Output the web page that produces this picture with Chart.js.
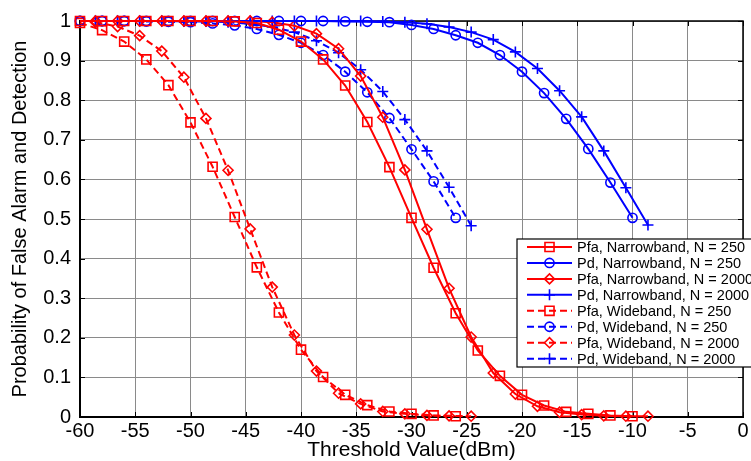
<!DOCTYPE html>
<html>
<head>
<meta charset="utf-8">
<script src="https://cdn.jsdelivr.net/npm/chart.js@4/dist/chart.umd.min.js"></script>
<style>
  html, body { margin: 0; padding: 0; background: #fff; }
</style>
</head>
<body>
<canvas id="myChart" width="751" height="461"></canvas>
<script>
// thresholds (dBm) for each sweep
const thrNarrow250 = [-60, -58, -56, -54, -52, -50, -48, -46, -44, -42, -40, -38, -36, -34, -32, -30, -28, -26, -24, -22, -20, -18, -16, -14, -12, -10];
const thrNarrow2000 = [-58.6, -56.6, -54.6, -52.6, -50.6, -48.6, -46.6, -44.6, -42.6, -40.6, -38.6, -36.6, -34.6, -32.6, -30.6, -28.6, -26.6, -24.6, -22.6, -20.6, -18.6, -16.6, -14.6, -12.6, -10.6, -8.6];
const thrWide250 = [-60, -58, -56, -54, -52, -50, -48, -46, -44, -42, -40, -38, -36, -34, -32, -30, -28, -26];
const thrWide2000 = [-58.6, -56.6, -54.6, -52.6, -50.6, -48.6, -46.6, -44.6, -42.6, -40.6, -38.6, -36.6, -34.6, -32.6, -30.6, -28.6, -26.6, -24.6];

// probabilities
const pfaNarrow250 = [1, 1, 1, 1, 1, 1, 1, 0.999, 0.995, 0.978, 0.948, 0.903, 0.837, 0.745, 0.631, 0.503, 0.377, 0.262, 0.168, 0.104, 0.056, 0.029, 0.013, 0.008, 0.004, 0.002];
const pdNarrow250 = [1, 1, 1, 1, 1, 1, 1, 1, 1, 1, 1, 1, 0.999, 0.998, 0.997, 0.99, 0.98, 0.964, 0.945, 0.914, 0.872, 0.818, 0.753, 0.677, 0.592, 0.503];
const pfaNarrow2000 = [1, 1, 1, 1, 1, 1, 1, 1, 0.997, 0.988, 0.968, 0.93, 0.861, 0.757, 0.624, 0.474, 0.325, 0.202, 0.111, 0.058, 0.027, 0.012, 0.006, 0.003, 0.002, 0.002];
const pdNarrow2000 = [1, 1, 1, 1, 1, 1, 1, 1, 1, 1, 1, 1, 1, 0.999, 0.997, 0.993, 0.985, 0.972, 0.953, 0.922, 0.88, 0.824, 0.758, 0.672, 0.579, 0.485];
const pfaWide250 = [0.995, 0.977, 0.948, 0.903, 0.838, 0.744, 0.632, 0.505, 0.378, 0.264, 0.17, 0.101, 0.056, 0.03, 0.014, 0.008, 0.004, 0.002];
const pdWide250 = [1, 1, 1, 0.999, 0.998, 0.997, 0.994, 0.989, 0.98, 0.965, 0.945, 0.914, 0.872, 0.82, 0.755, 0.676, 0.595, 0.503];
const pfaWide2000 = [0.997, 0.986, 0.963, 0.924, 0.858, 0.754, 0.623, 0.475, 0.328, 0.207, 0.116, 0.06, 0.033, 0.014, 0.008, 0.004, 0.003, 0.002];
const pdWide2000 = [1, 1, 1, 1, 0.999, 0.999, 0.997, 0.993, 0.985, 0.972, 0.95, 0.92, 0.877, 0.822, 0.751, 0.672, 0.58, 0.483];

const seriesLabels = [
    'Pfa, Narrowband, N = 250',
    'Pd, Narrowband, N = 250',
    'Pfa, Narrowband, N = 2000',
    'Pd, Narrowband, N = 2000',
    'Pfa, Wideband, N = 250',
    'Pd, Wideband, N = 250',
    'Pfa, Wideband, N = 2000',
    'Pd, Wideband, N = 2000'
];
const xTickLabels = ['-60', '-55', '-50', '-45', '-40', '-35', '-30', '-25', '-20', '-15', '-10', '-5', '0'];
const yTickLabels = ['0', '0.1', '0.2', '0.3', '0.4', '0.5', '0.6', '0.7', '0.8', '0.9', '1'];

const RED = '#ff0000';
const BLUE = '#0000ff';
const FONT = '"Liberation Sans", Arial, sans-serif';

function pts(xs, ys) {
    return xs.map((x, i) => ({x: x, y: ys[i]}));
}

function series(label, xs, ys, color, dashed, marker, r) {
    return {
        label: label,
        data: pts(xs, ys),
        borderColor: color,
        backgroundColor: color,
        borderWidth: 2,
        borderDash: dashed ? [7, 4] : [],
        pointStyle: marker,
        pointRadius: r,
        pointHoverRadius: r,
        pointBorderWidth: 1.6,
        pointBorderColor: color,
        pointBackgroundColor: 'rgba(0,0,0,0)',
        tension: 0,
        fill: false,
        clip: false
    };
}

// draw a marker the same way for the legend
function marker(ctx, style, x, y, r) {
    ctx.beginPath();
    if (style === 'rect') {
        const s = r * Math.SQRT1_2;
        ctx.rect(x - s, y - s, 2 * s, 2 * s);
    } else if (style === 'circle') {
        ctx.arc(x, y, r, 0, Math.PI * 2);
    } else if (style === 'rectRot') {
        ctx.moveTo(x - r, y);
        ctx.lineTo(x, y - r);
        ctx.lineTo(x + r, y);
        ctx.lineTo(x, y + r);
        ctx.closePath();
    } else if (style === 'cross') {
        ctx.moveTo(x - r, y);
        ctx.lineTo(x + r, y);
        ctx.moveTo(x, y - r);
        ctx.lineTo(x, y + r);
    }
    ctx.stroke();
}

const boxPlugin = {
    id: 'boxPlugin',
    beforeDatasetsDraw(chart) {
        const ctx = chart.ctx;
        const a = chart.chartArea;
        const xs = chart.scales.x, ys = chart.scales.y;
        ctx.save();
        ctx.strokeStyle = '#000';
        ctx.lineWidth = 1.5;
        ctx.strokeRect(a.left, a.top, a.right - a.left, a.bottom - a.top);
        ctx.lineWidth = 1;
        ctx.beginPath();
        xs.ticks.forEach(t => {
            const px = Math.round(xs.getPixelForValue(t.value)) + 0.5;
            ctx.moveTo(px, a.bottom); ctx.lineTo(px, a.bottom - 5);
            ctx.moveTo(px, a.top); ctx.lineTo(px, a.top + 5);
        });
        ys.ticks.forEach(t => {
            const py = Math.round(ys.getPixelForValue(t.value)) + 0.5;
            ctx.moveTo(a.left, py); ctx.lineTo(a.left + 5, py);
            ctx.moveTo(a.right, py); ctx.lineTo(a.right - 5, py);
        });
        ctx.stroke();
        ctx.restore();
    }
};

const legendPlugin = {
    id: 'legendPlugin',
    afterDraw(chart) {
        const ctx = chart.ctx;
        const x0 = 517, y0 = 239, w = 240, h = 128, rowH = 15.95;
        ctx.save();
        ctx.fillStyle = '#fff';
        ctx.fillRect(x0, y0, w, h);
        ctx.strokeStyle = '#000';
        ctx.lineWidth = 1.2;
        ctx.strokeRect(x0, y0, w, h);
        ctx.font = '14.5px ' + FONT;
        ctx.textBaseline = 'middle';
        chart.data.datasets.forEach((ds, i) => {
            const y = y0 + 8 + i * rowH;
            ctx.strokeStyle = ds.borderColor;
            ctx.lineWidth = 2;
            ctx.setLineDash(ds.borderDash);
            ctx.beginPath();
            ctx.moveTo(527, y);
            ctx.lineTo(572, y);
            ctx.stroke();
            ctx.setLineDash([]);
            ctx.lineWidth = 1.6;
            marker(ctx, ds.pointStyle, 549.5, y, ds.pointRadius);
            ctx.fillStyle = '#000';
            ctx.fillText(ds.label, 577, y + 1);
        });
        ctx.restore();
    }
};

Chart.defaults.font.family = FONT;
Chart.defaults.color = '#000';

const ctx = document.getElementById('myChart');
new Chart(ctx, {
    type: 'line',
    data: {
        datasets: [
            series(seriesLabels[0], thrNarrow250, pfaNarrow250, RED, false, 'rect', 6.4),
            series(seriesLabels[1], thrNarrow250, pdNarrow250, BLUE, false, 'circle', 4.6),
            series(seriesLabels[2], thrNarrow2000, pfaNarrow2000, RED, false, 'rectRot', 5),
            series(seriesLabels[3], thrNarrow2000, pdNarrow2000, BLUE, false, 'cross', 5.5),
            series(seriesLabels[4], thrWide250, pfaWide250, RED, true, 'rect', 6.4),
            series(seriesLabels[5], thrWide250, pdWide250, BLUE, true, 'circle', 4.6),
            series(seriesLabels[6], thrWide2000, pfaWide2000, RED, true, 'rectRot', 5),
            series(seriesLabels[7], thrWide2000, pdWide2000, BLUE, true, 'cross', 5.5)
        ]
    },
    options: {
        responsive: false,
        animation: false,
        devicePixelRatio: 1,
        layout: {
            padding: {top: 17, right: 8, left: 0, bottom: 0}
        },
        plugins: {
            legend: {display: false},
            tooltip: {enabled: false}
        },
        scales: {
            x: {
                type: 'linear',
                min: -60,
                max: 0,
                afterFit: function(scale) { scale.height = 44; },
                ticks: {
                    stepSize: 5,
                    padding: 2,
                    font: {size: 20},
                    callback: function(value, index) {
                        return xTickLabels[index];
                    }
                },
                grid: {color: '#8a8a8a', lineWidth: 1, drawTicks: false},
                border: {color: '#000', width: 2},
                title: {
                    display: true,
                    text: 'Threshold Value(dBm)',
                    font: {size: 21},
                    padding: {top: 0, bottom: -2}
                }
            },
            y: {
                min: 0,
                max: 1,
                afterFit: function(scale) { scale.width = 80; },
                ticks: {
                    stepSize: 0.1,
                    padding: 9,
                    font: {size: 20},
                    callback: function(value, index) {
                        return yTickLabels[index];
                    }
                },
                grid: {color: '#8a8a8a', lineWidth: 1, drawTicks: false},
                border: {color: '#000', width: 2},
                title: {
                    display: true,
                    text: 'Probability of False Alarm and Detection',
                    font: {size: 20},
                    padding: {top: 8, bottom: 0}
                }
            }
        }
    },
    plugins: [boxPlugin, legendPlugin]
});
</script>
</body>
</html>
